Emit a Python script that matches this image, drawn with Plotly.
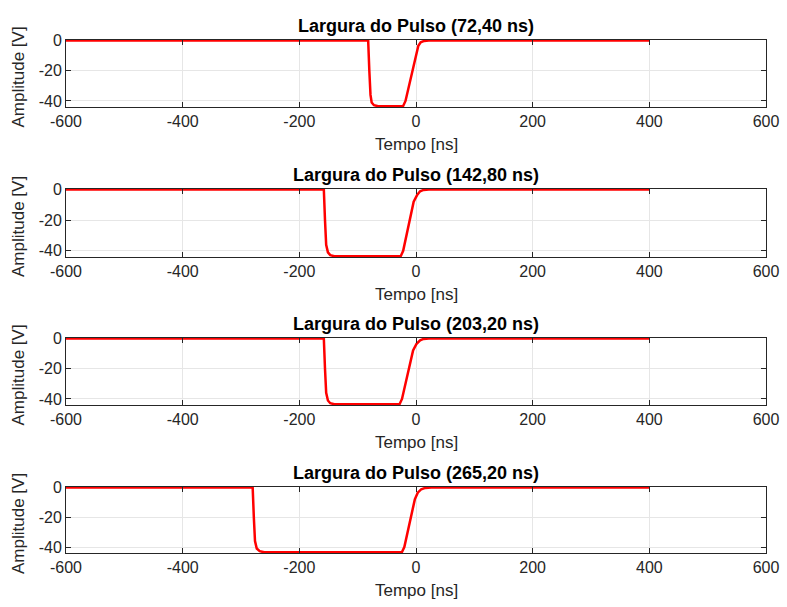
import plotly.graph_objects as go

# ---- data ----
titles = ["Largura do Pulso (72,40 ns)", "Largura do Pulso (142,80 ns)",
          "Largura do Pulso (203,20 ns)", "Largura do Pulso (265,20 ns)"]

t1 = [-600, -82, -80, -78, -76, -72, -65, -40, -22, -18, -12, -6, 0, 4, 8, 14, 22, 400]
v1 = [0, 0, -20, -36, -41, -42.8, -43.5, -43.5, -43.3, -40, -30, -18, -8, -3.5, -1.2, -0.3, 0, 0]

t2 = [-600, -158, -156, -154, -151, -147, -140, -80, -26, -22, -16, -10, -4, 2, 7, 13, 22, 400]
v2 = [0, 0, -20, -36, -41, -42.8, -43.5, -43.5, -43.3, -40, -30, -18, -8, -3.5, -1.2, -0.3, 0, 0]

t3 = [-600, -158, -156, -154, -151, -147, -140, -80, -28, -24, -18, -12, -5, 1, 7, 13, 22, 400]
v3 = [0, 0, -20, -36, -41, -42.8, -43.5, -43.5, -43.3, -40, -30, -18, -8, -3.5, -1.2, -0.3, 0, 0]

t4 = [-600, -280, -278, -276, -273, -268, -260, -100, -24, -20, -14, -8, -2, 3, 9, 16, 26, 400]
v4 = [0, 0, -20, -36, -41, -42.8, -43.5, -43.5, -43.3, -40, -30, -18, -8, -3.5, -1.2, -0.3, 0, 0]

series = [(t1, v1), (t2, v2), (t3, v3), (t4, v4)]

x_ticks = [-600, -400, -200, 0, 200, 400, 600]
y_ticks = [-40, -20, 0]

x_label = "Tempo [ns]"
y_label = "Amplitude [V]"

# ---- layout ----
W, H = 787, 607
x_left, x_right = 66, 766
tops = [40, 189, 338, 487]
bottoms = [107, 257, 405, 553]

fig = go.Figure()
axis_col = "#262626"
font_fam = "Liberation Sans, Arial, sans-serif"

for i, (t, v) in enumerate(series):
    n = i + 1
    xa = "x" if n == 1 else f"x{n}"
    ya = "y" if n == 1 else f"y{n}"
    fig.add_trace(go.Scatter(x=t, y=v, mode="lines",
                             line=dict(color="#ff0000", width=2.5),
                             xaxis=xa, yaxis=ya, showlegend=False,
                             hoverinfo="skip"))
    xkey = "xaxis" if n == 1 else f"xaxis{n}"
    ykey = "yaxis" if n == 1 else f"yaxis{n}"
    dom_y = [1 - bottoms[i] / H, 1 - tops[i] / H]
    fig.update_layout({
        xkey: dict(domain=[x_left / W, x_right / W], range=[-600, 600],
                   anchor=ya, tickvals=x_ticks,
                   ticktext=[str(v) for v in x_ticks], automargin=False,
                   showline=True, mirror="ticks", linecolor=axis_col, linewidth=1,
                   ticks="inside", ticklen=5, tickcolor=axis_col,
                   showgrid=True, gridcolor="#e6e6e6", gridwidth=1,
                   zeroline=False,
                   tickfont=dict(size=16, color=axis_col, family=font_fam)),
        ykey: dict(domain=dom_y, range=[-44, 0.3], anchor=xa,
                   tickvals=y_ticks, ticktext=[str(v) for v in y_ticks],
                   automargin=False,
                   showline=True, mirror="ticks", linecolor=axis_col, linewidth=1,
                   ticks="inside", ticklen=5, tickcolor=axis_col,
                   showgrid=True, gridcolor="#e6e6e6", gridwidth=1,
                   zeroline=False,
                   tickfont=dict(size=16, color=axis_col, family=font_fam)),
    })
    # title
    fig.add_annotation(text="<b>" + titles[i] + "</b>", x=(x_left + x_right) / 2 / W,
                       y=1 - (tops[i] - 2) / H, xref="paper", yref="paper",
                       xanchor="center", yanchor="bottom", showarrow=False,
                       font=dict(size=18, color="#000000", family=font_fam))
    # x label
    fig.add_annotation(text=x_label, x=(x_left + x_right) / 2 / W,
                       y=1 - (bottoms[i] + 26) / H, xref="paper", yref="paper",
                       xanchor="center", yanchor="top", showarrow=False,
                       font=dict(size=17, color=axis_col, family=font_fam))
    # y label
    fig.add_annotation(text=y_label, x=18 / W,
                       y=1 - ((tops[i] + bottoms[i]) / 2 + 4) / H, xref="paper", yref="paper",
                       xanchor="center", yanchor="middle", showarrow=False, textangle=-90,
                       font=dict(size=17, color=axis_col, family=font_fam))

fig.update_layout(width=W, height=H, margin=dict(l=0, r=0, t=0, b=0, autoexpand=False),
                  paper_bgcolor="white", plot_bgcolor="white",
                  font=dict(family=font_fam))

fig.write_html("out.html", config={"displayModeBar": False},
               post_script="document.body.style.margin='0px';document.body.style.overflow='hidden';")
